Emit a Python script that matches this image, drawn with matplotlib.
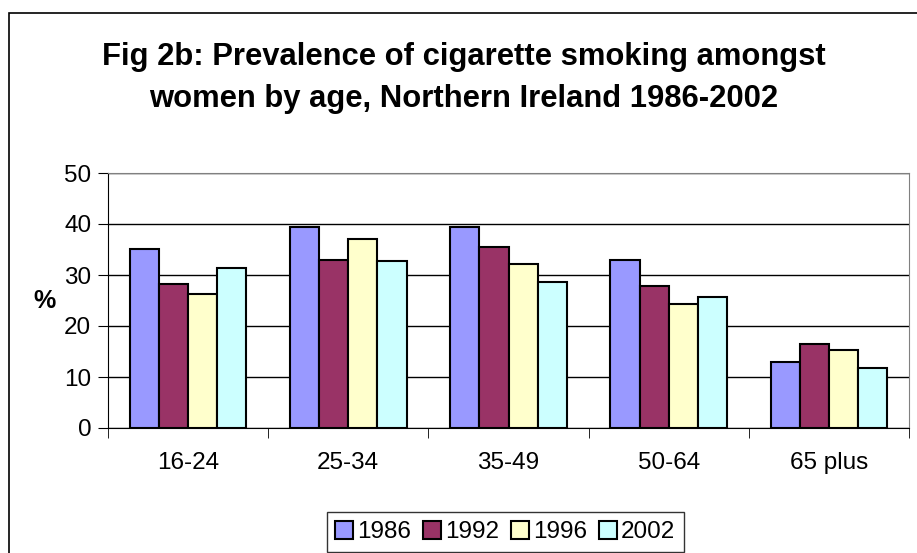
import matplotlib
matplotlib.use("Agg")
import matplotlib.pyplot as plt
import numpy as np
from matplotlib.patches import Rectangle

plt.rcParams['font.family'] = ['Liberation Sans', 'DejaVu Sans']

ages = ["16-24", "25-34", "35-49", "50-64", "65 plus"]
years = ["1986", "1992", "1996", "2002"]
v1986 = [35.1, 39.4, 39.4, 32.9, 12.9]
v1992 = [28.2, 32.9, 35.5, 27.8, 16.4]
v1996 = [26.3, 37.1, 32.1, 24.4, 15.2]
v2002 = [31.4, 32.8, 28.6, 25.6, 11.8]
colors = ["#9999FF", "#993366", "#FFFFCC", "#CCFFFF"]


def main():
    fig = plt.figure(figsize=(9.17, 5.53), dpi=100)
    # outer chart border
    fig.patches.append(Rectangle((9 / 917, -0.1), 1.0, 1.1 - 13 / 553,
                                 transform=fig.transFigure, fill=False,
                                 edgecolor="black", linewidth=1.2))
    ax = fig.add_axes([108 / 917, 125 / 553, 801 / 917, 255 / 553])

    series = [v1986, v1992, v1996, v2002]
    x = np.arange(len(ages))
    w = 0.182
    for i, (vals, c) in enumerate(zip(series, colors)):
        ax.bar(x + (i - 1.5) * w, vals, w, color=c, edgecolor="black",
               linewidth=1.5, label=years[i], zorder=3)

    ax.set_xlim(-0.5, len(ages) - 0.5)
    ax.set_ylim(0, 50)
    ax.set_yticks(range(0, 51, 10))
    ax.tick_params(axis="y", labelsize=17.5, length=7, pad=5, direction="out")
    ax.set_xticks(x)
    ax.set_xticklabels(ages, fontsize=17.5)
    ax.tick_params(axis="x", length=0, pad=17)
    ax.set_xticks(np.arange(-0.5, len(ages)), minor=True)
    ax.tick_params(axis="x", which="minor", length=7, direction="out")
    ax.grid(axis="y", color="black", linewidth=1, zorder=0)
    ax.spines["top"].set_color("#808080")
    ax.spines["right"].set_color("#808080")
    ax.set_ylabel("%", fontsize=18, fontweight="bold", rotation=0,
                  labelpad=14, va="center")

    fig.text(0.506, 1 - 78 / 553,
             "Fig 2b: Prevalence of cigarette smoking amongst\n"
             "women by age, Northern Ireland 1986-2002",
             ha="center", va="center", fontsize=22.3, fontweight="bold",
             linespacing=1.5)

    leg = fig.legend(loc="center", bbox_to_anchor=(0.551, 1 - 532 / 553),
                     ncol=4, fontsize=17.5, frameon=True, fancybox=False,
                     edgecolor="black", handlelength=0.75, handleheight=0.75,
                     handletextpad=0.15, columnspacing=0.5, borderpad=0.35)
    leg.get_frame().set_linewidth(1)

    fig.savefig("out.png", dpi=100)


if __name__ == "__main__":
    main()
